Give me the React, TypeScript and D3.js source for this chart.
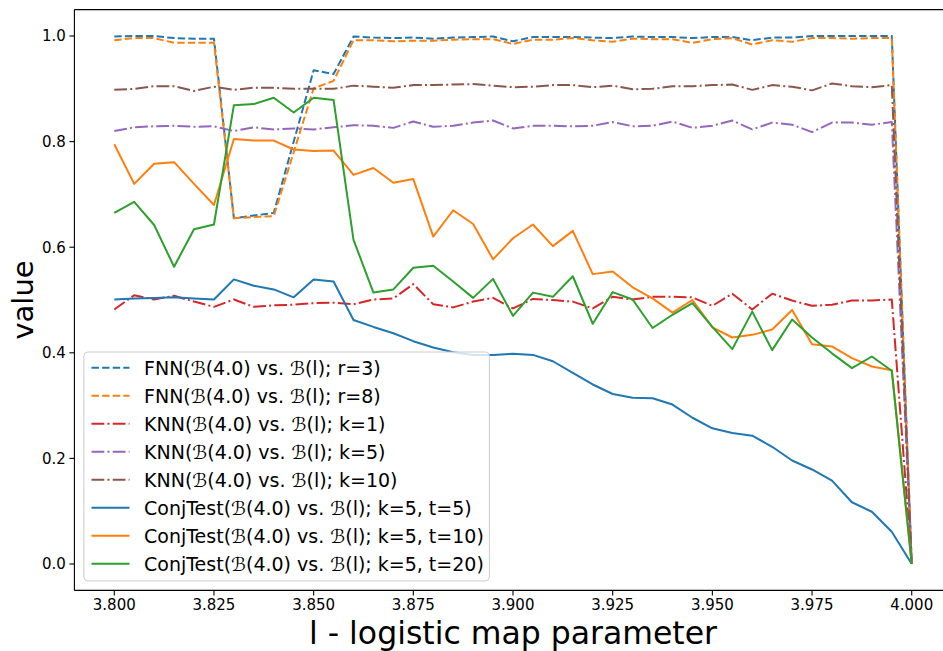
import React from "react";
import * as d3 from "d3";

const xValues: number[] = d3.range(41).map((i) => +(3.8 + i * 0.005).toFixed(3));

const fnnR3 = [0.999, 1.0, 1.0, 0.996, 0.995, 0.995, 0.655, 0.66, 0.665, 0.8, 0.935, 0.928, 0.999, 0.997, 0.996, 0.997, 0.995, 0.997, 0.998, 0.999, 0.99, 0.998, 0.998, 0.998, 0.997, 0.996, 0.999, 0.998, 0.998, 0.996, 0.998, 0.998, 0.992, 0.997, 0.997, 1.0, 1.0, 1.0, 1.0, 1.0, 0.0];
const fnnR8 = [0.992, 0.996, 0.996, 0.987, 0.987, 0.987, 0.655, 0.657, 0.659, 0.78, 0.901, 0.915, 0.992, 0.992, 0.99, 0.991, 0.991, 0.993, 0.994, 0.994, 0.985, 0.993, 0.993, 0.996, 0.992, 0.989, 0.995, 0.994, 0.994, 0.987, 0.994, 0.996, 0.984, 0.992, 0.989, 0.996, 0.996, 0.995, 0.996, 0.996, 0.0];
const knnK1 = [0.482, 0.509, 0.501, 0.508, 0.497, 0.487, 0.501, 0.487, 0.49, 0.491, 0.494, 0.495, 0.492, 0.501, 0.503, 0.53, 0.492, 0.486, 0.497, 0.504, 0.484, 0.502, 0.5, 0.497, 0.484, 0.506, 0.501, 0.506, 0.506, 0.505, 0.489, 0.512, 0.482, 0.512, 0.499, 0.489, 0.491, 0.499, 0.499, 0.501, 0.0];
const knnK5 = [0.82, 0.827, 0.829, 0.83, 0.828, 0.829, 0.82, 0.827, 0.823, 0.825, 0.823, 0.827, 0.831, 0.83, 0.826, 0.838, 0.828, 0.83, 0.836, 0.84, 0.825, 0.83, 0.83, 0.829, 0.83, 0.837, 0.829, 0.83, 0.838, 0.826, 0.83, 0.84, 0.823, 0.836, 0.832, 0.818, 0.836, 0.836, 0.832, 0.837, 0.0];
const knnK10 = [0.898, 0.9, 0.905, 0.905, 0.896, 0.904, 0.898, 0.902, 0.902, 0.9, 0.9, 0.9, 0.906, 0.904, 0.902, 0.907, 0.907, 0.908, 0.909, 0.906, 0.903, 0.904, 0.907, 0.907, 0.903, 0.906, 0.899, 0.9, 0.905, 0.905, 0.907, 0.908, 0.898, 0.907, 0.904, 0.897, 0.91, 0.905, 0.903, 0.907, 0.0];
const conjT5 = [0.501, 0.503, 0.504, 0.505, 0.503, 0.501, 0.539, 0.527, 0.52, 0.505, 0.539, 0.535, 0.462, 0.449, 0.437, 0.422, 0.41, 0.401, 0.396, 0.396, 0.398, 0.396, 0.384, 0.362, 0.34, 0.322, 0.315, 0.314, 0.302, 0.277, 0.257, 0.248, 0.243, 0.222, 0.196, 0.179, 0.158, 0.117, 0.099, 0.061, 0.0];
const conjT10 = [0.795, 0.72, 0.758, 0.761, 0.72, 0.68, 0.805, 0.802, 0.802, 0.785, 0.782, 0.783, 0.737, 0.75, 0.722, 0.729, 0.62, 0.67, 0.644, 0.577, 0.617, 0.643, 0.602, 0.631, 0.549, 0.554, 0.524, 0.503, 0.476, 0.5, 0.448, 0.429, 0.434, 0.444, 0.481, 0.416, 0.412, 0.39, 0.374, 0.367, 0.0];
const conjT20 = [0.665, 0.686, 0.642, 0.563, 0.634, 0.643, 0.869, 0.871, 0.883, 0.855, 0.883, 0.879, 0.614, 0.514, 0.52, 0.561, 0.565, 0.535, 0.504, 0.54, 0.47, 0.514, 0.506, 0.545, 0.455, 0.515, 0.501, 0.447, 0.472, 0.494, 0.449, 0.407, 0.478, 0.405, 0.463, 0.429, 0.399, 0.371, 0.393, 0.366, 0.0];

const xTicks = [3.8, 3.825, 3.85, 3.875, 3.9, 3.925, 3.95, 3.975, 4.0];
const yTicks = [0.0, 0.2, 0.4, 0.6, 0.8, 1.0];

const B = "\u212C";
const seriesLabels = [
  `FNN(${B}(4.0) vs. ${B}(l); r=3)`,
  `FNN(${B}(4.0) vs. ${B}(l); r=8)`,
  `KNN(${B}(4.0) vs. ${B}(l); k=1)`,
  `KNN(${B}(4.0) vs. ${B}(l); k=5)`,
  `KNN(${B}(4.0) vs. ${B}(l); k=10)`,
  `ConjTest(${B}(4.0) vs. ${B}(l); k=5, t=5)`,
  `ConjTest(${B}(4.0) vs. ${B}(l); k=5, t=10)`,
  `ConjTest(${B}(4.0) vs. ${B}(l); k=5, t=20)`,
];
const seriesData = [fnnR3, fnnR8, knnK1, knnK5, knnK10, conjT5, conjT10, conjT20];
const seriesColors = ["#1f77b4", "#ff7f0e", "#d62728", "#9467bd", "#8c564b", "#1f77b4", "#ff7f0e", "#2ca02c"];
const DASHED = "7.4,3.2";
const DASHDOT = "12.8,3.2,2,3.2";
const seriesDash = [DASHED, DASHED, DASHDOT, DASHDOT, DASHDOT, "", "", ""];

const W = 943;
const H = 651;
const FONT = "DejaVu Sans, sans-serif";

export default function App() {
  const x = d3.scaleLinear().domain([3.79, 4.01]).range([74.4, 951.6]);
  const y = d3.scaleLinear().domain([-0.05, 1.05]).range([590.4, 9.6]);
  const left = x(3.79);
  const right = x(4.01);
  const top = y(1.05);
  const bottom = y(-0.05);

  const line = d3
    .line<number>()
    .x((_, i) => x(xValues[i]))
    .y((d) => y(d));

  const legendX = left + 9.5;
  const legendY = 352;
  const legendW = 405.5;
  const legendH = bottom - 9.5 - legendY;
  const rowY0 = 367.8;
  const rowStep = 28;

  return (
    <svg
      width={W}
      height={H}
      style={{ position: "absolute", left: 0, top: 0, background: "#fff" }}
      fontFamily={FONT}
    >
      <rect x={0} y={0} width={W} height={H} fill="#fff" />
      <defs>
        <clipPath id="plotclip">
          <rect x={left} y={top} width={right - left} height={bottom - top} />
        </clipPath>
      </defs>
      <g clipPath="url(#plotclip)">
        {seriesData.map((d, k) => (
          <path
            key={k}
            d={line(d) || ""}
            fill="none"
            stroke={seriesColors[k]}
            strokeWidth={2}
            strokeDasharray={seriesDash[k] || undefined}
            strokeLinejoin="round"
          />
        ))}
      </g>
      {/* spines */}
      <line x1={left} x2={left} y1={top} y2={bottom} stroke="#000" strokeWidth={1.1} />
      <line x1={left} x2={right} y1={bottom} y2={bottom} stroke="#000" strokeWidth={1.1} />
      <line x1={left} x2={right} y1={top} y2={top} stroke="#000" strokeWidth={1.1} />
      <line x1={right} x2={right} y1={top} y2={bottom} stroke="#000" strokeWidth={1.1} />
      {/* x ticks */}
      {xTicks.map((t) => (
        <g key={t}>
          <line x1={x(t)} x2={x(t)} y1={bottom} y2={bottom + 5} stroke="#000" strokeWidth={1.1} />
          <text x={x(t)} y={609.5} textAnchor="middle" fontSize={15} fill="#000">
            {d3.format(".3f")(t)}
          </text>
        </g>
      ))}
      {/* y ticks */}
      {yTicks.map((t) => (
        <g key={t}>
          <line x1={left - 5} x2={left} y1={y(t)} y2={y(t)} stroke="#000" strokeWidth={1.1} />
          <text x={left - 8.5} y={y(t)} dy="0.36em" textAnchor="end" fontSize={15} fill="#000">
            {d3.format(".1f")(t)}
          </text>
        </g>
      ))}
      {/* axis labels */}
      <text x={(left + right) / 2} y={643.5} textAnchor="middle" fontSize={31.5} fill="#000">
        l - logistic map parameter
      </text>
      <text
        transform={`translate(33,${(top + bottom) / 2}) rotate(-90)`}
        textAnchor="middle"
        fontSize={29}
        fill="#000"
      >
        value
      </text>
      {/* legend */}
      <rect
        x={legendX}
        y={legendY}
        width={legendW}
        height={legendH}
        rx={4}
        ry={4}
        fill="#fff"
        fillOpacity={0.8}
        stroke="#cccccc"
        strokeWidth={1}
      />
      {seriesLabels.map((lab, k) => {
        const cy = rowY0 + k * rowStep;
        return (
          <g key={k}>
            <line
              x1={legendX + 7.6}
              x2={legendX + 7.6 + 38}
              y1={cy}
              y2={cy}
              stroke={seriesColors[k]}
              strokeWidth={2}
              strokeDasharray={seriesDash[k] || undefined}
            />
            <text x={144} y={cy} dy="0.36em" fontSize={19} fill="#000">
              {lab}
            </text>
          </g>
        );
      })}
    </svg>
  );
}
